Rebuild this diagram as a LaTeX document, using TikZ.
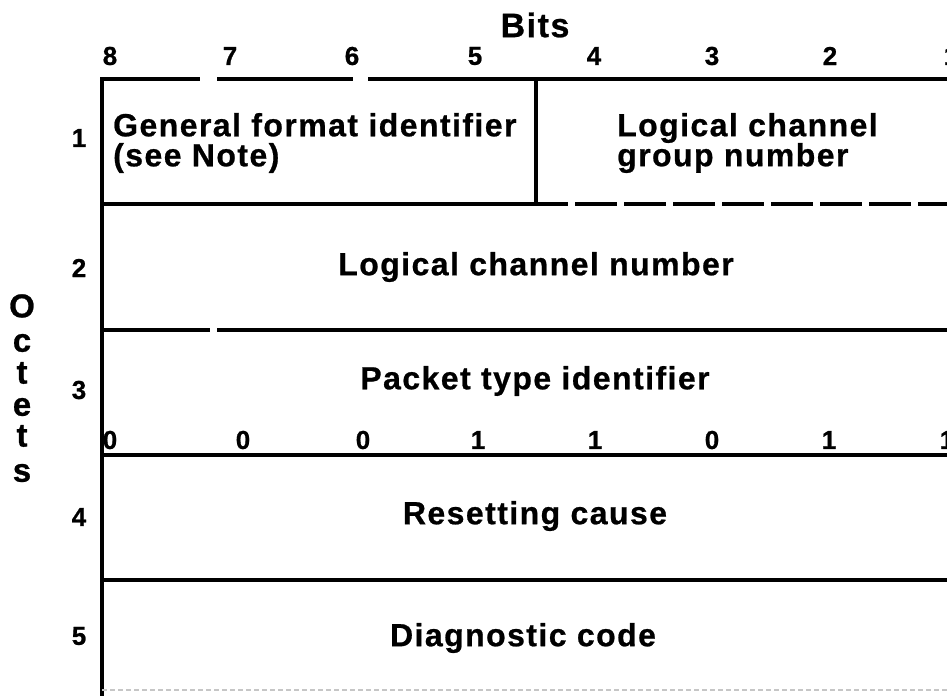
\documentclass[tikz,border=0pt]{standalone}
\usepackage{fontspec}
\setmainfont{Liberation Sans}
\newfontfamily\labfont{Liberation Sans}[LetterSpace=4.5, BoldFeatures={FakeBold=0.7}]
\newfontfamily\numfont{Liberation Sans}[BoldFeatures={FakeBold=0.8}]
\begin{document}
\begin{tikzpicture}[x=1pt,y=-1pt,
  rule/.style={line width=3.4pt},
  lab/.style={font=\labfont\bfseries\fontsize{32}{30}\selectfont, inner sep=0pt},
  bitnum/.style={font=\numfont\bfseries\fontsize{26}{24}\selectfont, inner sep=0pt},
  octnum/.style={font=\numfont\bfseries\fontsize{26}{24}\selectfont, inner sep=0pt},
  octlet/.style={font=\numfont\bfseries\fontsize{33}{30}\selectfont, inner sep=0pt},
  title/.style={font=\labfont\bfseries\fontsize{34}{32}\selectfont, inner sep=0pt}]
\useasboundingbox (0,0) rectangle (947,696);

% frame lines
\draw[rule] (101,79) -- (200,79);
\draw[rule] (217,79) -- (353,79);
\draw[rule] (368,79) -- (947,79);
\draw[rule] (102,77.3) -- (102,696);
\draw[rule] (536,79) -- (536,204);
\draw[rule] (102,204) -- (536,204);
\draw[rule, dash pattern=on 42pt off 7pt, dash phase=10pt] (536,204) -- (947,204);
\draw[rule] (102,330) -- (210,330);
\draw[rule] (217,330) -- (947,330);
\draw[rule] (102,455) -- (947,455);
\draw[rule] (102,580) -- (947,580);
\draw[line width=1.3pt, gray!45, dash pattern=on 5pt off 3pt] (102,690) -- (947,690);

% title
\node[title] (bits) at (535,25) {Bits};
% bit numbers
\foreach \n/\x in {8/110,7/230,6/352,5/475,4/594,3/712,2/830,1/951}
  \node[bitnum] (b\n) at (\x,56) {\n};

% octet numbers
\foreach \n/\y in {1/138,2/268,3/390,4/517,5/636}
  \node[octnum] (o\n) at (79,\y) {\n};

% Octets vertical
\node[octlet] (l1) at (22,306) {O};
\node[octlet] (l2) at (22,343) {c};
\node[octlet] (l3) at (22,373) {t};
\node[octlet] (l4) at (22,407) {e};
\node[octlet] (l5) at (22,436) {t};
\node[octlet] (l6) at (22,473) {s};

% field texts
\node[lab, anchor=west, align=left] (gfi) at (113,143) {General format identifier\\(see Note)};
\node[lab, anchor=west, align=left] (lcg) at (617,143) {Logical channel\\group number};
\node[lab] (lcn) at (536,267) {Logical channel number};
\node[lab] (pti) at (535,381) {Packet type identifier};
\node[lab] (rc) at (535,516) {Resetting cause};
\node[lab] (dc) at (523,638) {Diagnostic code};

% packet type bits
\foreach \v/\x [count=\i] in {0/110,0/243,0/363,1/478,1/595,0/712,1/829,1/947}
  \node[bitnum] (p\i) at (\x,440) {\v};
\end{tikzpicture}
\end{document}
